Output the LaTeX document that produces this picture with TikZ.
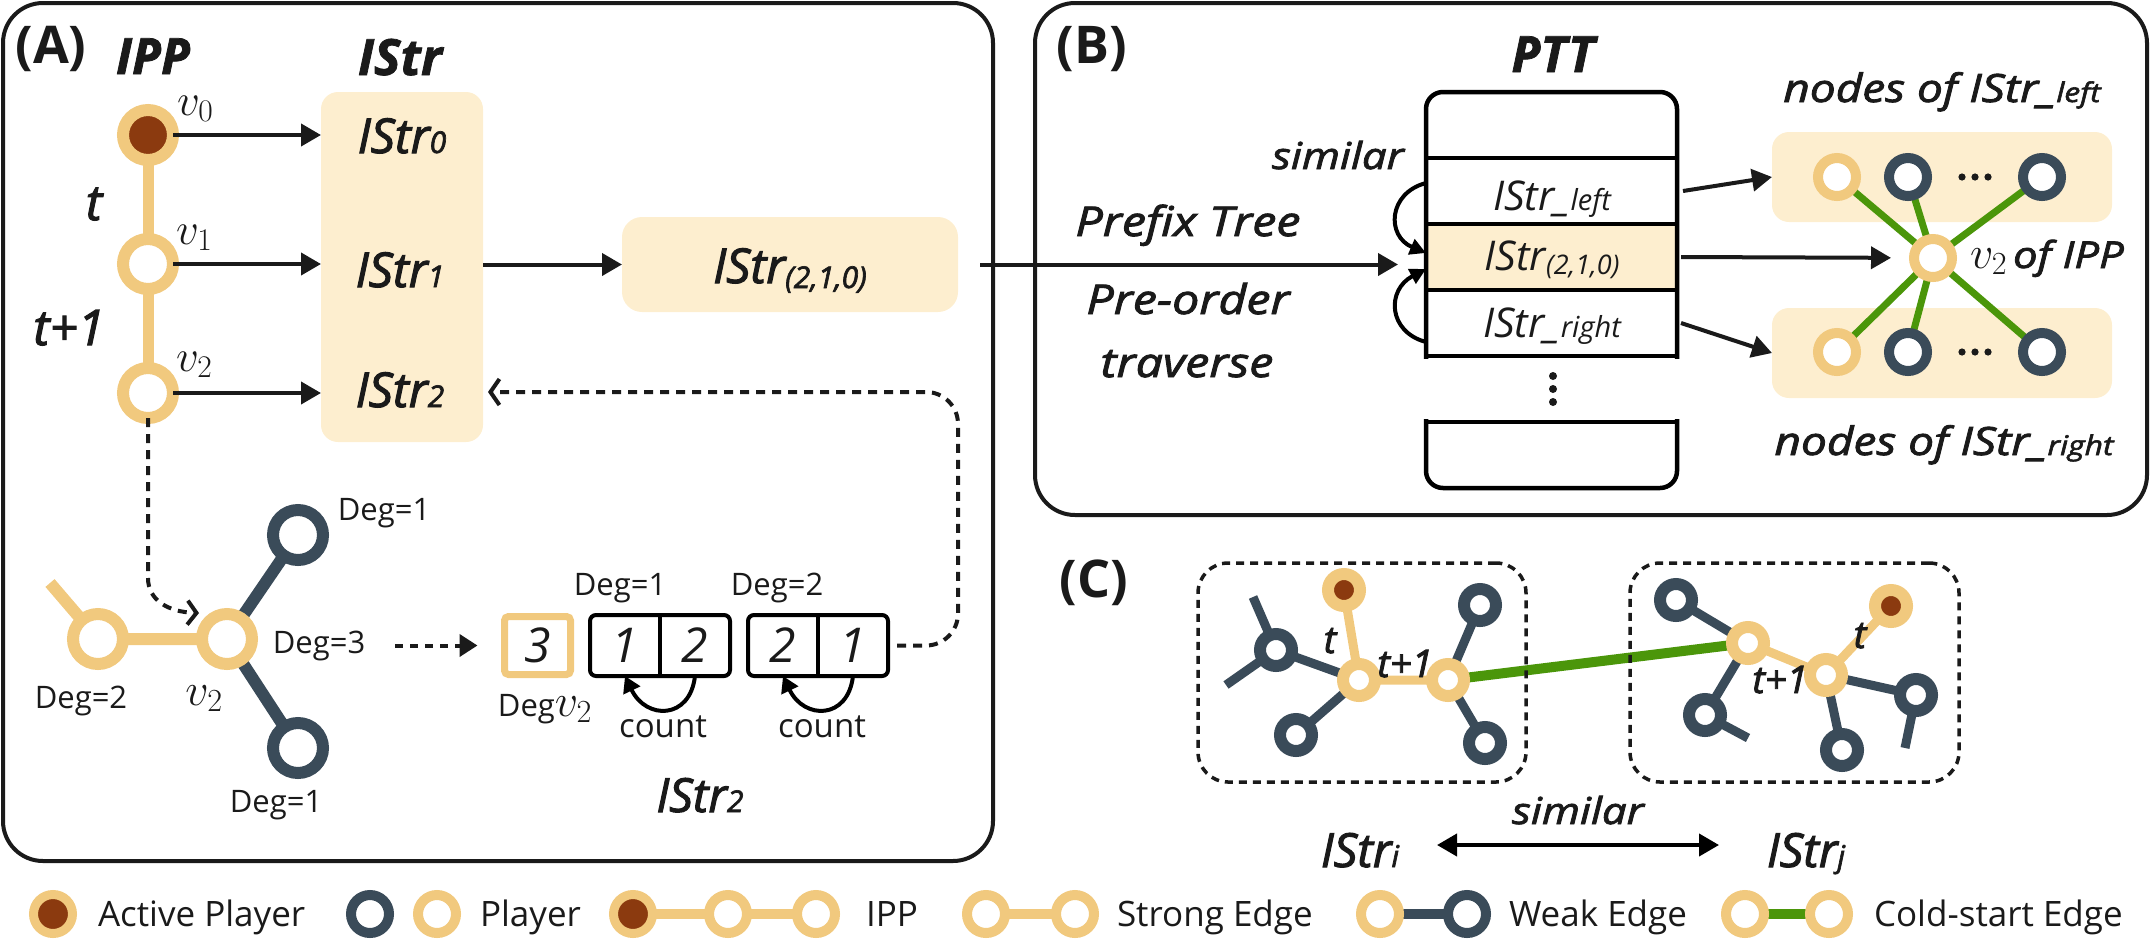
\IfFileExists{fix-cm.sty}{\RequirePackage{fix-cm}}{}
\documentclass[tikz,border=0pt]{standalone}
\usepackage[no-math]{fontspec}
\setmainfont{Open Sans}
\newfontfamily\sbfont[FakeBold=2.2]{Open Sans}
\newfontfamily\lblfont[FakeBold=2.2,FakeStretch=1.18]{Open Sans}
\newfontfamily\hdfont[FakeBold=1.5]{Open Sans}
\usetikzlibrary{arrows.meta}
\pgfdeclarelayer{bg}
\pgfdeclarelayer{edges}
\pgfsetlayers{bg,edges,main}
\definecolor{cy}{HTML}{F1C97E}
\definecolor{cb}{HTML}{8B3A0F}
\definecolor{cd}{HTML}{3A4B59}
\definecolor{cc}{HTML}{FDEECF}
\definecolor{cg}{HTML}{4B960A}
\definecolor{ck}{HTML}{1A1A1A}
\newcommand\sz[1]{\fontsize{#1}{#1}\selectfont}
\newcommand\sbi{\sbfont\itshape}
\newcommand\lbi{\lblfont\itshape}
\begin{document}
\begin{tikzpicture}[x=1pt,y=-1pt,
  every node/.style={inner sep=0pt,outer sep=0pt,text=ck},
  pn/.style 2 args={circle,line width=#2pt,minimum size=#1pt},
  yn/.style={draw=cy,fill=white},
  dn/.style={draw=cd,fill=white},
  an/.style={draw=cy,fill=cb},
  frame/.style={draw=ck,line width=4pt,rounded corners=40pt},
  arr/.style={draw=ck,line width=4pt,-{Triangle[length=20pt,width=22pt]}},
  dsh/.style={draw=ck,line width=4pt,dash pattern=on 9pt off 7pt},
  cream/.style={fill=cc,rounded corners=#1},
  cell/.style={minimum width=70pt,minimum height=61pt,font=\itshape\sz{48}},
  pttrow/.style={minimum width=251pt,minimum height=66pt},
  cbox/.style={draw=ck,line width=3.5pt,dash pattern=on 8pt off 6pt,rounded corners=30pt},
  deg/.style={font=\sz{31},anchor=base},
  leg/.style={font=\sz{35},anchor=base west},
  hdr/.style={font=\hdfont\sz{50}\bfseries\itshape,anchor=base},
  plab/.style={font=\sz{52}\bfseries,anchor=base},
  ye/.style={draw=cy,line width=#1},
  de/.style={draw=cd,line width=#1},
  ge/.style={draw=cg,line width=#1},
]
\useasboundingbox (0,0) rectangle (2150,946);

%================ Panel A ================
\draw[frame] (3,3) rectangle (993,861);
\node[plab] (labA) at (51,63) {(A)};
\node[hdr] (hipp) at (153,74) {IPP};
\node[hdr] (histr) at (400,75) {IStr};

\node[cream=17pt,minimum width=162pt,minimum height=350pt] (istrbox) at (402,267) {};
\node[font=\sbi\sz{48},anchor=base] (s0) at (402,153) {IStr{\sz{30}0}};
\node[font=\sbi\sz{48},anchor=base] (s1) at (400,287) {IStr{\sz{30}1}};
\node[font=\sbi\sz{48},anchor=base] (s2) at (400,407) {IStr{\sz{30}2}};

\node[pn={50}{12},an] (v0) at (148,135) {};
\node[pn={50}{12},yn] (v1) at (148,264) {};
\node[pn={50}{12},yn] (v2) at (148,393) {};
\begin{pgfonlayer}{edges}
\draw[ye=11pt] (v0.center) -- (v1.center) -- (v2.center);
\end{pgfonlayer}
\node[font=\sz{45},anchor=base west] (lv0) at (177,115) {$v_0$};
\node[font=\sz{45},anchor=base west] (lv1) at (176,244) {$v_1$};
\node[font=\sz{45},anchor=base west] (lv2) at (176,371) {$v_2$};
\node[font=\sbi\sz{49},anchor=base] (lt) at (94,220) {t};
\node[font=\sbi\sz{49},anchor=base] (lt1) at (69,345) {t+1};

\draw[arr] (v0) -- (v0 -| istrbox.west);
\draw[arr] (v1) -- (v1 -| istrbox.west);
\draw[arr] (v2) -- (v2 -| istrbox.west);

\node[cream=20pt,minimum width=336pt,minimum height=95pt] (b210) at (790,264.5) {};
\node[font=\sbi\sz{48},anchor=base] (t210) at (790,283) {IStr\raisebox{-5pt}{\sz{30}(2,1,0)}};
\draw[arr] (istrbox.east |- b210.west) -- (b210.west);

% small graph
\node[pn={50}{12},yn] (gl) at (98,639) {};
\node[pn={50}{12},yn] (gv) at (227,639) {};
\node[pn={50}{12},dn] (gt) at (298,535) {};
\node[pn={50}{12},dn] (gb) at (298,748) {};
\coordinate (gs) at (50,583);
\begin{pgfonlayer}{edges}
\draw[ye=12pt] (gs) -- (gl.center) -- (gv.center);
\draw[de=12pt] (gt.center) -- (gv.center) -- (gb.center);
\end{pgfonlayer}
\node[deg] (dg1) at (384,520) {Deg=1};
\node[deg] (dg3) at (319,653) {Deg=3};
\node[deg] (dg2) at (81,708) {Deg=2};
\node[font=\sz{46},anchor=base] (lgv) at (204,705) {$v_2$};
\node[deg] (dg1b) at (276,812) {Deg=1};

\coordinate (gin) at (199,613);
\draw[dsh,-{Straight Barb[length=9pt,width=24pt]}] (v2) -- (148,578) .. controls (148,600) and (168,612) .. (gin);

% IStr2 encoding
\node[draw=cy,line width=7pt,rounded corners=4pt,minimum width=66pt,minimum height=58pt,font=\itshape\sz{48}] (box3) at (537.5,645.5) {3};
\node[cell] (c11) at (625,645.5) {1};
\node[cell] (c12) at (695,645.5) {2};
\node[cell] (c21) at (783,645.5) {2};
\node[cell] (c22) at (853,645.5) {1};
\draw[line width=4pt,rounded corners=6pt] (c11.north west) rectangle (c12.south east);
\draw[line width=4pt] (c11.north east) -- (c11.south east);
\draw[line width=4pt,rounded corners=6pt] (c21.north west) rectangle (c22.south east);
\draw[line width=4pt] (c21.north east) -- (c21.south east);

\draw[dsh,dash pattern=on 8pt off 7pt,-{Triangle[length=18pt,width=22pt]},shorten <=30pt,shorten >=27pt] (dg3.east |- box3.west) -- (box3.west);

\node[deg] (dd1) at (620,595) {Deg=1};
\node[deg] (dd2) at (777,595) {Deg=2};
\node[deg] (ddv) at (545,716) {Deg{\sz{46}$v_2$}};
\draw[line width=4pt,-{Triangle[length=16pt,width=18pt]}] (c12.south) .. controls (690,720) and (646,720) .. (c11.south);
\draw[line width=4pt,-{Triangle[length=16pt,width=18pt]}] (c22.south) .. controls (848,720) and (804,720) .. (c21.south);
\node[deg,font=\sz{33}] (cnt1) at (663,737) {count};
\node[deg,font=\sz{33}] (cnt2) at (822,737) {count};
\node[font=\sbi\sz{47},anchor=base] (bist2) at (700,812) {IStr{\sz{30}2}};

\coordinate (retend) at (488,392);
\draw[dsh,rounded corners=32pt,-{Straight Barb[length=9pt,width=26pt]}] ([xshift=9pt]c22.east) -| (958,392) -- (retend);

%================ Panel B ================
\draw[frame] (1035,3) rectangle (2147,515);
\node[plab] (labB) at (1092,63) {(B)};
\node[hdr] (hptt) at (1553,72) {PTT};

\node[pttrow] (rT) at (1551.5,125) {};
\node[pttrow] (rL) at (1551.5,191) {};
\node[pttrow,fill=cc] (rM) at (1551.5,257) {};
\node[pttrow] (rR) at (1551.5,323) {};
\node[pttrow] (rB) at (1551.5,455) {};
\begin{scope}
\clip (1400,70) rectangle (1700,358.25);
\draw[line width=4.5pt,rounded corners=17pt] (1426,92) rectangle (1677,420);
\end{scope}
\begin{scope}
\clip (1400,419.75) rectangle (1700,510);
\draw[line width=4.5pt,rounded corners=17pt] (1426,380) rectangle (1677,488);
\end{scope}
\draw[line width=4.5pt] (rL.north west) -- (rL.north east);
\draw[line width=4.5pt] (rM.north west) -- (rM.north east);
\draw[line width=4.5pt] (rR.north west) -- (rR.north east);
\draw[line width=4.5pt] (rR.south west) -- (rR.south east);
\draw[line width=4.5pt] (rB.north west) -- (rB.north east);
\node[font=\itshape\sz{41},anchor=base] (tL) at (1552,210) {IStr\_{\sz{29}left}};
\node[font=\itshape\sz{41},anchor=base] (tM) at (1552,270) {IStr\raisebox{-4pt}{\sz{27}(2,1,0)}};
\node[font=\itshape\sz{41},anchor=base] (tR) at (1552,337) {IStr\_{\sz{29}right}};
\node (pdots) at (1553,389) {};
\foreach \dy in {-13,0,13} \fill[ck] ([yshift=\dy pt]pdots) circle (4pt);

\node[font=\lbi\sz{37},anchor=base] (sim1) at (1338,169) {similar};
\node[font=\lbi\sz{41},anchor=base] (pft) at (1188,236) {Prefix Tree};
\node[font=\lbi\sz{41},anchor=base] (pre) at (1188,314) {Pre-order};
\node[font=\lbi\sz{41},anchor=base] (trv) at (1187,377) {traverse};

\draw[arr,shorten >=28pt] ([xshift=22pt]b210.east) -- (b210.east -| rM.west);
\draw[line width=4pt,-{Triangle[length=16pt,width=16pt]}] ([yshift=8pt]rL.west) .. controls (1388,193) and (1386,236) .. ([yshift=4pt]rM.west);
\draw[line width=4pt,-{Triangle[length=16pt,width=16pt]}] ([yshift=-19pt]rR.west) .. controls (1388,332) and (1386,290) .. ([yshift=-12pt]rM.west);

\begin{pgfonlayer}{bg}
\node[cream=17pt,minimum width=340pt,minimum height=90pt] (nbt) at (1942,177) {};
\node[cream=17pt,minimum width=340pt,minimum height=90pt] (nbb) at (1942,353) {};
\end{pgfonlayer}
\node[pn={38}{10},yn] (ty1) at (1837,177) {};
\node[pn={38}{10},dn] (td1) at (1908,177) {};
\node[pn={38}{10},dn] (td2) at (2042,177) {};
\node[pn={38}{10},yn] (by1) at (1837,352) {};
\node[pn={38}{10},dn] (bd1) at (1908,352) {};
\node[pn={38}{10},dn] (bd2) at (2042,352) {};
\node (tdots) at (1975,177) {};
\node (bdots) at (1975,352) {};
\foreach \dx in {-13,0,13} {\fill[ck] ([xshift=\dx pt]tdots) circle (3.6pt); \fill[ck] ([xshift=\dx pt]bdots) circle (3.6pt);}
\node[pn={38}{10},yn] (cv) at (1933,258) {};
\begin{pgfonlayer}{edges}
\foreach \n in {ty1,td1,td2,by1,bd1,bd2} \draw[ge=7pt] (cv.center) -- (\n.center);
\end{pgfonlayer}
\node[anchor=base west] (cvl) at (1970,268) {{\sz{46}$v_2$}\hspace{6pt}{\lbi\sz{37}of IPP}};
\node[font=\lbi\sz{39},anchor=base] (nl) at (1942,102) {nodes of IStr\_{\sz{27}left}};
\node[font=\lbi\sz{39},anchor=base] (nr) at (1944,455) {nodes of IStr\_{\sz{27}right}};

\draw[arr] ([xshift=6pt]rL.east) -- (nbt.west);
\draw[arr,shorten >=23pt] ([xshift=4pt]rM.east) -- (cv);
\draw[arr] ([xshift=4pt]rR.east) -- (nbb.west);

%================ Panel C ================
\node[plab] (labC) at (1094,597) {(C)};
\node[cbox,minimum width=328pt,minimum height=219pt] (boxi) at (1362,672.5) {};
\node[cbox,minimum width=329pt,minimum height=219pt] (boxj) at (1794.5,672.5) {};

\node[pn={32}{12},an] (ca1) at (1344,590) {};
\node[pn={32}{12},yn] (cy1) at (1359,680) {};
\node[pn={32}{12},yn] (cy2) at (1448,680) {};
\node[pn={32}{12},dn] (cd1) at (1276,650) {};
\node[pn={32}{12},dn] (cd2) at (1296,735) {};
\node[pn={32}{12},dn] (cd3) at (1480,605) {};
\node[pn={32}{12},dn] (cd4) at (1485,743) {};
\coordinate (cs1) at (1253,597);
\coordinate (cs2) at (1226,685);

\node[pn={32}{12},yn] (cy3) at (1748,643) {};
\node[pn={32}{12},yn] (cy4) at (1826,675) {};
\node[pn={32}{12},an] (ca2) at (1891,606) {};
\node[pn={32}{12},dn] (cd5) at (1676,600) {};
\node[pn={32}{12},dn] (cd6) at (1705,715) {};
\node[pn={32}{12},dn] (cd7) at (1916,695) {};
\node[pn={32}{12},dn] (cd8) at (1842,750) {};
\coordinate (cs3) at (1748,738);
\coordinate (cs4) at (1905,748);

\begin{pgfonlayer}{edges}
\draw[de=9pt] (cs1) -- (cd1.center) -- (cs2);
\draw[de=9pt] (cd1.center) -- (cy1.center) -- (cd2.center);
\draw[de=9pt] (cd3.center) -- (cy2.center) -- (cd4.center);
\draw[ye=9pt] (ca1.center) -- (cy1.center) -- (cy2.center);
\draw[ge=10pt] (cy2.center) -- (cy3.center);
\draw[de=9pt] (cd5.center) -- (cy3.center) -- (cd6.center) -- (cs3);
\draw[de=9pt] (cd8.center) -- (cy4.center) -- (cd7.center) -- (cs4);
\draw[ye=9pt] (cy3.center) -- (cy4.center) -- (ca2.center);
\end{pgfonlayer}
\node[font=\sbi\sz{38},anchor=base] (ct1) at (1330,653) {t};
\node[font=\sbi\sz{38},anchor=base] (ct2) at (1405,677) {t+1};
\node[font=\sbi\sz{38},anchor=base] (ct3) at (1860,648) {t};
\node[font=\sbi\sz{38},anchor=base] (ct4) at (1780,693) {t+1};

\node[font=\lbi\sz{37},anchor=base] (sim2) at (1578,824) {similar};
\node[font=\sbi\sz{47},anchor=base] (isi) at (1360,867) {IStr{\sz{30}i}};
\node[font=\sbi\sz{47},anchor=base] (isj) at (1806,867) {IStr{\sz{30}j}};
\coordinate (simL) at (1437,845);
\coordinate (simR) at (1719,845);
\draw[line width=4pt,{Triangle[length=20pt,width=22pt]}-{Triangle[length=20pt,width=22pt]}] (simL) -- (simR);

%================ Legend ================
\node[pn={39}{9},an] (la) at (53,914) {};
\node[leg] (lta) at (98,926) {Active Player};
\node[pn={38}{10},dn] (lp1) at (370,914) {};
\node[pn={38}{10},yn] (lp2) at (437,914) {};
\node[leg] (ltp) at (480,926) {Player};
\node[pn={39}{9},an] (li1) at (633,914) {};
\node[pn={38}{10},yn] (li2) at (728,914) {};
\node[pn={38}{10},yn] (li3) at (816,914) {};
\node[leg] (lti) at (866,926) {IPP};
\node[pn={38}{10},yn] (ls1) at (986,914) {};
\node[pn={38}{10},yn] (ls2) at (1075,914) {};
\node[leg] (lts) at (1117,926) {Strong Edge};
\node[pn={38}{10},yn] (lw1) at (1380,914) {};
\node[pn={38}{10},dn] (lw2) at (1467,914) {};
\node[leg] (ltw) at (1509,926) {Weak Edge};
\node[pn={38}{10},yn] (lc1) at (1745,914) {};
\node[pn={38}{10},yn] (lc2) at (1829,914) {};
\node[leg] (ltc) at (1874,926) {Cold-start Edge};
\begin{pgfonlayer}{edges}
\draw[ye=10pt] (li1.center) -- (li2.center) -- (li3.center);
\draw[ye=10pt] (ls1.center) -- (ls2.center);
\draw[de=10pt] (lw1.center) -- (lw2.center);
\draw[ge=10pt] (lc1.center) -- (lc2.center);
\end{pgfonlayer}
\end{tikzpicture}
\end{document}
